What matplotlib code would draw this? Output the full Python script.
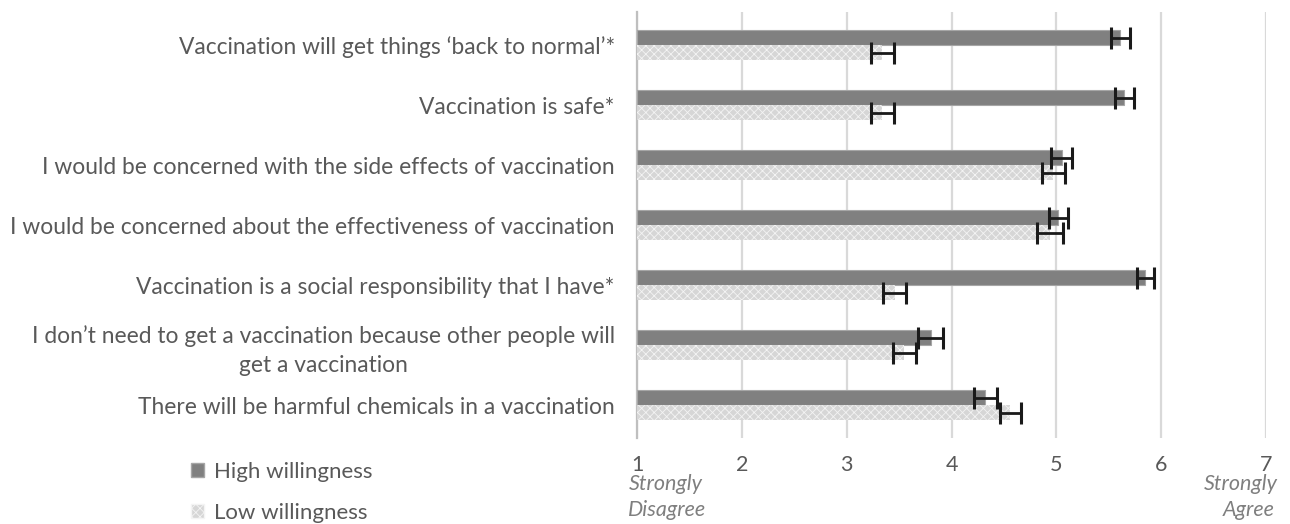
import numpy as np
from matplotlib import pyplot as plt
from matplotlib.patches import Patch

statements = [
    "Vaccination will get things \u2018back to normal\u2019*",
    "Vaccination is safe*",
    "I would be concerned with the side effects of vaccination",
    "I would be concerned about the effectiveness of vaccination",
    "Vaccination is a social responsibility that I have*",
    "I don\u2019t need to get a vaccination because other people will\nget a vaccination",
    "There will be harmful chemicals in a vaccination",
]
high_mean = [5.61, 5.65, 5.05, 5.02, 5.85, 3.80, 4.32]
high_err = [0.09, 0.09, 0.10, 0.09, 0.08, 0.12, 0.11]
low_mean = [3.34, 3.34, 4.97, 4.94, 3.46, 3.55, 4.56]
low_err = [0.11, 0.11, 0.11, 0.12, 0.11, 0.11, 0.10]
ticks = [1, 2, 3, 4, 5, 6, 7]

plt.rcParams['font.family'] = ['Lato', 'DejaVu Sans']
plt.rcParams['hatch.linewidth'] = 0.6
text_grey = '#595959'

fig = plt.figure(figsize=(12.9, 5.24), dpi=100)
ax = fig.add_axes([637 / 1290, 1 - 438 / 524, (1266 - 637) / 1290, 426 / 524])

y = np.arange(len(statements))
h = 0.25

# bars start at 1 (scale 1..7)
ax.barh(y - h / 2, np.array(high_mean) - 1, height=h, left=1,
        color='#808080', edgecolor='#a6a6a6', linewidth=0.8, zorder=3)
ax.barh(y + h / 2, np.array(low_mean) - 1, height=h, left=1,
        color='#d6d6d6', edgecolor='#f4f4f4', hatch='xxxx', linewidth=0, zorder=3)

ax.errorbar(high_mean, y - h / 2, xerr=high_err, fmt='none', ecolor='#1a1a1a',
            elinewidth=2, capsize=8, capthick=2.2, zorder=4)
ax.errorbar(low_mean, y + h / 2, xerr=low_err, fmt='none', ecolor='#1a1a1a',
            elinewidth=2, capsize=8, capthick=2.2, zorder=4)

ax.set_xlim(1, 7)
ax.set_ylim(6.55, -0.55)
ax.set_xticks(ticks)
ax.set_xticklabels([str(t) for t in ticks])
ax.set_yticks(y)
ax.set_yticklabels(statements, ha='right', multialignment='center', linespacing=1.45)
ax.tick_params(axis='y', length=0, pad=16, labelsize=16.4, labelcolor=text_grey)
ax.tick_params(axis='x', length=0, pad=12, labelsize=15.5, labelcolor=text_grey)

ax.grid(axis='x', color='#d9d9d9', linewidth=1.6, zorder=0)
for side in ['top', 'right', 'bottom']:
    ax.spines[side].set_visible(False)
ax.spines['left'].set_color('#bfbfbf')
ax.spines['left'].set_linewidth(1.6)

# end point descriptions
note = dict(ha='center', va='center', fontsize=15.5, style='italic', color='#7f7f7f')
fig.text(666 / 1290, 1 - 484 / 524, "Strongly", **note)
fig.text(667 / 1290, 1 - 510 / 524, "Disagree", **note)
fig.text(1241 / 1290, 1 - 484 / 524, "Strongly", **note)
fig.text(1249 / 1290, 1 - 510 / 524, "Agree", **note)

handles = [Patch(facecolor='#808080', edgecolor='#a6a6a6', label='High willingness'),
           Patch(facecolor='#d6d6d6', edgecolor='#f4f4f4', hatch='xxxx', label='Low willingness')]
leg = fig.legend(handles=handles, loc='upper left', bbox_to_anchor=(182 / 1290, 1 - 453 / 524),
                 frameon=False, fontsize=16, handlelength=0.6, handleheight=0.6,
                 handletextpad=0.45, labelspacing=0.95, borderaxespad=0)
for t in leg.get_texts():
    t.set_color(text_grey)

fig.savefig('out.png', dpi=100)
